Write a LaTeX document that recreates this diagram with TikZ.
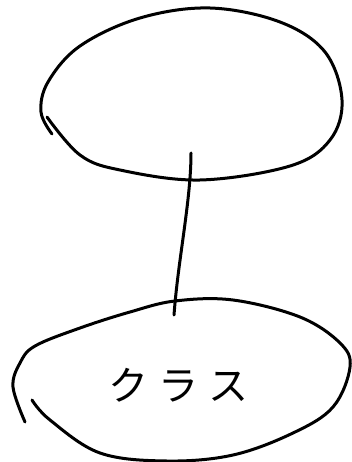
\documentclass[tikz,border=0pt]{standalone}
\usepackage{fontspec}
\newfontfamily\jpfont{Noto Sans CJK JP}
\begin{document}
\begin{tikzpicture}[x=1pt,y=-1pt,
  sketch/.style={line width=3pt, line cap=round, line join=round, black},
  label/.style={font=\jpfont\fontsize{40}{42}\selectfont, inner sep=0pt}]
\useasboundingbox (0,0) rectangle (351,462);
% top ellipse
\draw[sketch] plot[smooth, tension=0.6] coordinates {(52,134) (41,112) (48,82) (80,46) (140,18) (210,8) (280,22) (325,52) (342,100) (330,140) (290,166) (200,180) (120,170) (80,155) (47,117)};
% bottom ellipse
\draw[sketch] plot[smooth, tension=0.6] coordinates {(25,422) (13,387) (20,363) (35,346) (80,328) (130,312) (175,301) (233,300) (300,317) (340,343) (350,367) (333,407) (293,433) (233,455) (167,461) (100,453) (50,420) (32,400)};
\coordinate (topend) at (191,153);
\coordinate (botend) at (174,315);
\draw[sketch] (topend) .. controls (191,200) and (178,260) .. (botend);
\node[label] (cls) at (178,385) {ク\hspace{10pt}ラ\hspace{10pt}ス};
\end{tikzpicture}
\end{document}
